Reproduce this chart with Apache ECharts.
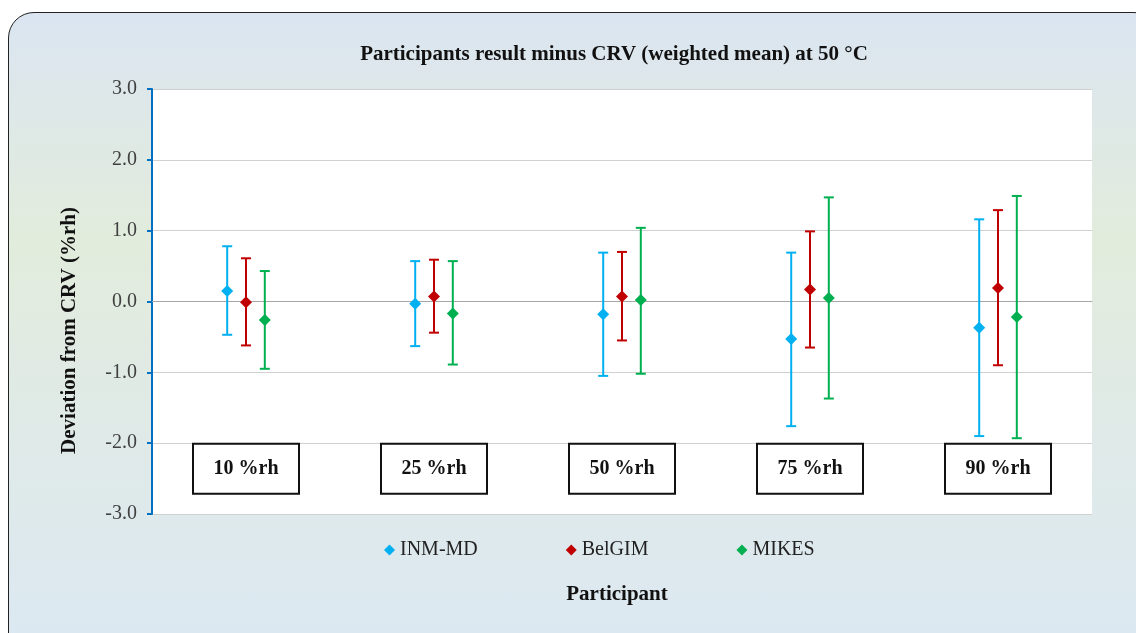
<!DOCTYPE html>
<html>
<head>
<meta charset="utf-8">
<script src="https://cdn.jsdelivr.net/npm/echarts@6/dist/echarts.min.js"></script>
<style>
  html, body { margin: 0; padding: 0; background: #fff; }
  .frame {
    position: absolute; left: 8px; top: 12px; width: 1150px; height: 650px;
    border: 1px solid #222; border-radius: 26px;
    background: linear-gradient(180deg, #dbe5f1 0%, #e2ecdc 35%, #e0eae6 60%, #dce8f3 100%);
  }
  #chart { position: absolute; left: 0; top: 0; width: 1136px; height: 633px; }
</style>
</head>
<body>
<div class="frame"></div>
<div id="chart"></div>
<script>
// humidity points (x categories)
const categories = ['10 %rh', '25 %rh', '50 %rh', '75 %rh', '90 %rh']
const participants = ['INM-MD', 'BelGIM', 'MIKES']
const colors = ['#00b0f0', '#c00000', '#00b050']

// deviation from CRV, %rh
const inmValue = [0.15, -0.03, -0.18, -0.53, -0.37]
const inmLow = [-0.47, -0.63, -1.05, -1.76, -1.90]
const inmHigh = [0.78, 0.57, 0.69, 0.69, 1.16]

const belValue = [-0.01, 0.07, 0.07, 0.17, 0.19]
const belLow = [-0.62, -0.44, -0.55, -0.65, -0.90]
const belHigh = [0.61, 0.59, 0.70, 0.99, 1.29]

const mikValue = [-0.26, -0.17, 0.02, 0.05, -0.22]
const mikLow = [-0.95, -0.89, -1.02, -1.37, -1.93]
const mikHigh = [0.43, 0.57, 1.04, 1.47, 1.49]

const yTicks = [-3, -2, -1, 0, 1, 2, 3]
const boxLevel = -2.36 // where the %rh label boxes sit

const serif = '"Liberation Serif", "DejaVu Serif", serif'

const seriesData = [
  {value: inmValue, low: inmLow, high: inmHigh},
  {value: belValue, low: belLow, high: belHigh},
  {value: mikValue, low: mikLow, high: mikHigh},
]

// error bar + diamond, shifted sideways inside the category band
const makeRender = (shift) => (params, api) => {
  const band = api.size([1, 0])[0]
  const dx = band * shift
  const top = api.coord([api.value(0), api.value(3)])
  const bot = api.coord([api.value(0), api.value(2)])
  const mid = api.coord([api.value(0), api.value(1)])
  const x = top[0] + dx
  const color = api.visual('color')
  const line = {stroke: color, lineWidth: 2}
  const cap = 5
  const d = 6
  return {
    type: 'group',
    children: [
      {type: 'line', shape: {x1: x, y1: top[1], x2: x, y2: bot[1]}, style: line},
      {type: 'line', shape: {x1: x - cap, y1: top[1], x2: x + cap, y2: top[1]}, style: line},
      {type: 'line', shape: {x1: x - cap, y1: bot[1], x2: x + cap, y2: bot[1]}, style: line},
      {
        type: 'polygon',
        shape: {points: [[x, mid[1] - d], [x + d, mid[1]], [x, mid[1] + d], [x - d, mid[1]]]},
        style: {fill: color}
      }
    ]
  }
}

const shifts = [-0.1, 0, 0.1]
const series = participants.map((name, i) => ({
  name,
  type: 'custom',
  itemStyle: {color: colors[i]},
  renderItem: makeRender(shifts[i]),
  encode: {x: 0, y: [1, 2, 3]},
  data: categories.map((c, j) => [j, seriesData[i].value[j], seriesData[i].low[j], seriesData[i].high[j]]),
  z: 5
}))

// label boxes at the bottom of the plot
series.push({
  type: 'custom',
  silent: true,
  z: 3,
  renderItem: (params, api) => {
    const c = api.coord([api.value(0), api.value(1)])
    const w = 106
    const h = 50
    return {
      type: 'group',
      children: [
        {
          type: 'rect',
          shape: {x: c[0] - w / 2, y: c[1] - h / 2, width: w, height: h},
          style: {fill: '#fff', stroke: '#111', lineWidth: 2}
        },
        {
          type: 'text',
          x: c[0],
          y: c[1],
          style: {
            text: categories[params.dataIndex],
            fontFamily: serif,
            fontWeight: 'bold',
            fontSize: 20,
            fill: '#111',
            align: 'center',
            verticalAlign: 'middle'
          }
        }
      ]
    }
  },
  encode: {x: 0, y: 1},
  data: categories.map((c, j) => [j, boxLevel])
})

const chart = echarts.init(document.getElementById('chart'))
chart.setOption({
  animation: false,
  backgroundColor: 'transparent',
  title: [
    {
      text: 'Participants result minus CRV (weighted mean) at 50 °C',
      left: 609,
      top: 39,
      textAlign: 'center',
      textStyle: {fontFamily: serif, fontWeight: 'bold', fontSize: 21, color: '#111'}
    },
    {
      text: 'Participant',
      left: 612,
      top: 579,
      textAlign: 'center',
      textStyle: {fontFamily: serif, fontWeight: 'bold', fontSize: 21, color: '#111'}
    }
  ],
  legend: {
    data: participants.map((n, i) => ({name: n, icon: 'diamond', itemStyle: {color: colors[i]}})),
    left: 379,
    top: 535,
    itemWidth: 11,
    itemHeight: 11,
    itemGap: 88,
    textStyle: {fontFamily: serif, fontSize: 20, color: '#222'}
  },
  grid: {
    left: 152,
    right: 44,
    top: 89,
    bottom: 119,
    show: true,
    backgroundColor: '#fff',
    borderWidth: 0
  },
  xAxis: {
    type: 'category',
    data: categories,
    axisLine: {show: true, onZero: true, lineStyle: {color: '#a6a6a6', width: 1}},
    axisTick: {show: false},
    axisLabel: {show: false},
    splitLine: {show: false}
  },
  yAxis: {
    type: 'value',
    min: yTicks[0],
    max: yTicks[yTicks.length - 1],
    interval: 1,
    name: 'Deviation from CRV (%rh)',
    nameLocation: 'middle',
    nameGap: 72,
    nameTextStyle: {fontFamily: serif, fontWeight: 'bold', fontSize: 21, color: '#111', padding: [0, 58, 0, 0]},
    axisLine: {show: true, lineStyle: {color: '#0070c0', width: 2}},
    axisTick: {show: true, length: 5, lineStyle: {color: '#0070c0', width: 2}},
    axisLabel: {
      fontFamily: serif,
      fontSize: 20,
      color: '#404040',
      margin: 15,
      formatter: (v) => v.toFixed(1)
    },
    splitLine: {show: true, lineStyle: {color: '#d0d0d0', width: 1}}
  },
  series
})
</script>
</body>
</html>
